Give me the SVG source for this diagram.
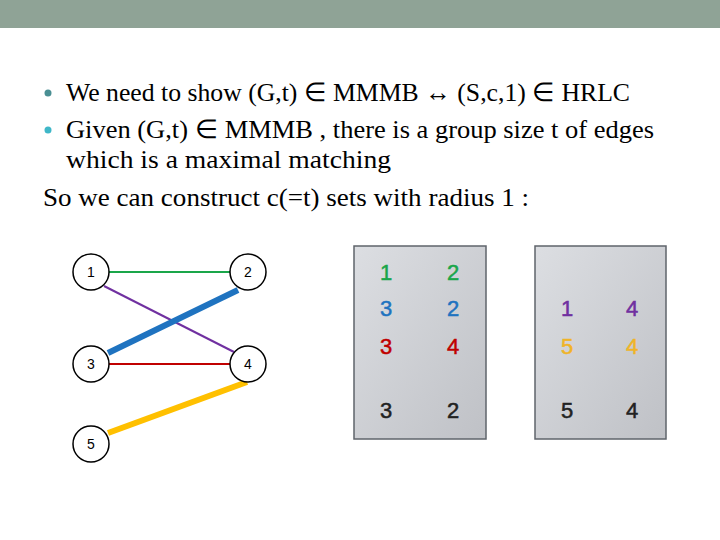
<svg xmlns="http://www.w3.org/2000/svg" width="720" height="540" viewBox="0 0 720 540">
<defs>
<style>
.t{font-family:"Liberation Serif",serif;font-size:26px;fill:#000}
.n{font-family:"Liberation Sans",sans-serif;font-size:14px;text-anchor:middle;fill:#000}
.b{font-family:"Liberation Sans",sans-serif;font-size:22px;text-anchor:middle;stroke-width:0.5}
.c{fill:#fff;stroke:#000;stroke-width:1.5}
.box{stroke:#5f646b;stroke-width:1.5}
</style>
<linearGradient id="g" x1="0" y1="0" x2="1" y2="1"><stop offset="0" stop-color="#dcdee2"/><stop offset="1" stop-color="#bfc1c6"/></linearGradient>
</defs>
<rect width="720" height="540" fill="#fff"/>
<rect width="720" height="28" fill="#8fa396"/>
<circle cx="48" cy="93" r="3.5" fill="#4a8f93"/>
<text class="t" x="66" y="101" textLength="564" lengthAdjust="spacingAndGlyphs">We need to show (G,t) ∈ MMMB ↔ (S,c,1) ∈ HRLC</text>
<circle cx="48" cy="130" r="3.5" fill="#3fb7c8"/>
<text class="t" x="66" y="138" textLength="588" lengthAdjust="spacingAndGlyphs">Given (G,t) ∈ MMMB , there is a group size t of edges</text>
<text class="t" x="66" y="168" textLength="325" lengthAdjust="spacingAndGlyphs">which is a maximal matching</text>
<text class="t" x="43" y="206" textLength="486" lengthAdjust="spacingAndGlyphs">So we can construct c(=t) sets with radius 1 :</text>
<g id="connectors">
<line x1="108" y1="272" x2="230" y2="272" stroke="#1aa64a" stroke-width="2"/>
<line x1="104" y1="286" x2="234" y2="352" stroke="#7030a0" stroke-width="2"/>
<line x1="108" y1="364" x2="230" y2="364" stroke="#c00000" stroke-width="2"/>
<line x1="108" y1="353" x2="238" y2="290" stroke="#1f73c0" stroke-width="6"/>
<line x1="108" y1="433" x2="247" y2="382" stroke="#ffc000" stroke-width="6"/>
</g>
<g id="n1"><circle class="c" cx="91" cy="272" r="18"/><text class="n" x="91" y="277">1</text></g>
<g id="n2"><circle class="c" cx="248" cy="272" r="18"/><text class="n" x="248" y="277">2</text></g>
<g id="n3"><circle class="c" cx="91" cy="364" r="18"/><text class="n" x="91" y="369">3</text></g>
<g id="n4"><circle class="c" cx="248" cy="364" r="18"/><text class="n" x="248" y="369">4</text></g>
<g id="n5"><circle class="c" cx="91" cy="444" r="18"/><text class="n" x="91" y="449">5</text></g>
<g id="box1"><rect class="box" x="354" y="246" width="132" height="193" fill="url(#g)"/>
<text class="b" x="386" y="280" fill="#1aa64a" stroke="#1aa64a">1</text><text class="b" x="453" y="280" fill="#1aa64a" stroke="#1aa64a">2</text>
<text class="b" x="386" y="316" fill="#1f73c0" stroke="#1f73c0">3</text><text class="b" x="453" y="316" fill="#1f73c0" stroke="#1f73c0">2</text>
<text class="b" x="386" y="354" fill="#c00000" stroke="#c00000">3</text><text class="b" x="453" y="354" fill="#c00000" stroke="#c00000">4</text>
<text class="b" x="386" y="418" fill="#222" stroke="#222">3</text><text class="b" x="453" y="418" fill="#222" stroke="#222">2</text></g>
<g id="box2"><rect class="box" x="535" y="246" width="131" height="193" fill="url(#g)"/>
<text class="b" x="567" y="316" fill="#7030a0" stroke="#7030a0">1</text><text class="b" x="632" y="316" fill="#7030a0" stroke="#7030a0">4</text>
<text class="b" x="567" y="354" fill="#f0b428" stroke="#f0b428">5</text><text class="b" x="632" y="354" fill="#f0b428" stroke="#f0b428">4</text>
<text class="b" x="567" y="418" fill="#222" stroke="#222">5</text><text class="b" x="632" y="418" fill="#222" stroke="#222">4</text></g>
</svg>
